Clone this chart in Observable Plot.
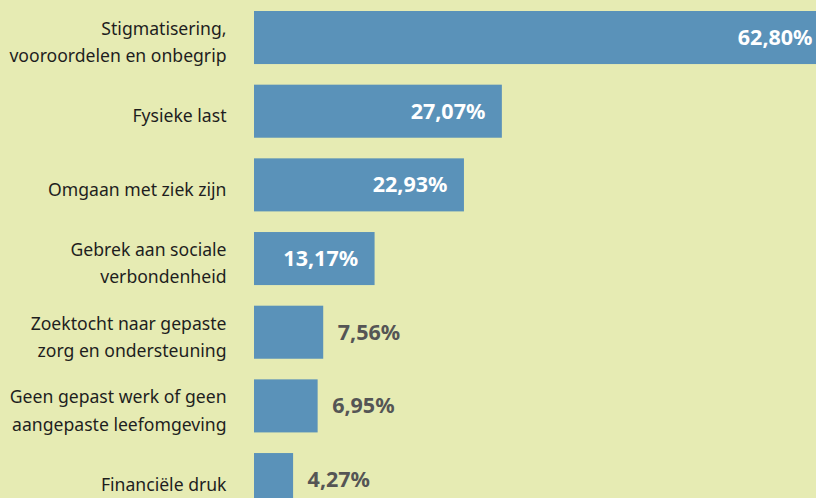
<!DOCTYPE html>
<html>
<head>
<meta charset="utf-8">
<script src="https://cdn.jsdelivr.net/npm/d3@7"></script>
<script src="https://cdn.jsdelivr.net/npm/@observablehq/plot@0.6"></script>
<style>
  html, body { margin: 0; padding: 0; background: #e6ebb3; overflow: hidden; }
</style>
</head>
<body>
<div id="chart"></div>
<script>
const categories = [
  "Stigmatisering,\nvooroordelen en onbegrip",
  "Fysieke last",
  "Omgaan met ziek zijn",
  "Gebrek aan sociale\nverbondenheid",
  "Zoektocht naar gepaste\nzorg en ondersteuning",
  "Geen gepast werk of geen\naangepaste leefomgeving",
  "Financiële druk"
];
const values = [62.80, 27.07, 22.93, 13.17, 7.56, 6.95, 4.27];

const data = categories.map((c, i) => ({cat: c, value: values[i]}));
const fmt = d => d.value.toFixed(2).replace(".", ",") + "%";

const chart = Plot.plot({
  width: 816,
  height: 498,
  marginLeft: 254,
  marginRight: 0,
  marginTop: 0,
  marginBottom: 0,
  style: {background: "#e6ebb3", fontFamily: "'Noto Sans', sans-serif", overflow: "hidden"},
  x: {domain: [0, 62.8], range: [254, 829], axis: null},
  y: {domain: categories, range: [0.69, 516.4], paddingInner: 0.28, paddingOuter: 0.14, round: false, axis: null},
  marks: [
    Plot.barX(data, {x: "value", y: "cat", fill: "#5a92b9"}),
    Plot.text(data, {x: 0, y: "cat", text: "cat", textAnchor: "end", dx: -28, dy: 2, lineHeight: 1.55, fontSize: 17.6, fill: "#1e1e1e"}),
    Plot.text(data.filter(d => d.value > 10), {x: "value", y: "cat", text: fmt, textAnchor: "end", dx: -17, fill: "white", fontSize: 21.5, fontWeight: "bold"}),
    Plot.text(data.filter(d => d.value <= 10), {x: "value", y: "cat", text: fmt, textAnchor: "start", dx: 14, fill: "#555555", fontSize: 21.5, fontWeight: "bold"})
  ]
});
document.getElementById("chart").appendChild(chart);
</script>
</body>
</html>
